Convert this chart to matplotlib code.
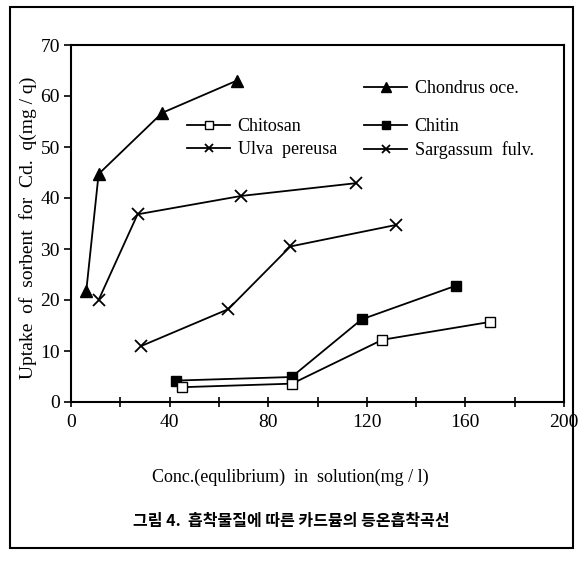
import matplotlib
matplotlib.use("Agg")
import matplotlib.pyplot as plt
from matplotlib.patches import Rectangle

# values
chondrus_x = [6.2, 11.2, 37.0, 67.2]
chondrus_y = [21.8, 44.7, 56.7, 63.0]

ulva_x = [11.2, 27.0, 69.0, 115.5]
ulva_y = [20.0, 36.8, 40.4, 42.9]

sargassum_x = [28.6, 63.8, 89.0, 131.7]
sargassum_y = [11.0, 18.2, 30.5, 34.7]

chitin_x = [42.5, 89.5, 117.9, 156.1]
chitin_y = [4.2, 4.9, 16.2, 22.8]

chitosan_x = [45.0, 89.7, 126.3, 170.0]
chitosan_y = [2.9, 3.6, 12.2, 15.7]

xticks = [0, 40, 80, 120, 160, 200]
yticks = [0, 10, 20, 30, 40, 50, 60, 70]

plt.rcParams['font.family'] = ['Liberation Serif', 'DejaVu Serif']

W, H = 579, 567
fig = plt.figure(figsize=(W / 100, H / 100), dpi=100)
ax = fig.add_axes([71 / W, 1 - 402 / H, (564 - 71) / W, (402 - 45) / H])

lw = 1.3
l_chon, = ax.plot(chondrus_x, chondrus_y, color="black", lw=lw,
                  marker="^", ms=9, mfc="black")
l_ulva, = ax.plot(ulva_x, ulva_y, color="black", lw=lw,
                  marker="x", ms=8, mew=1.3)
l_sarg, = ax.plot(sargassum_x, sargassum_y, color="black", lw=lw,
                  marker="x", ms=8, mew=1.3)
l_chit, = ax.plot(chitin_x, chitin_y, color="black", lw=lw,
                  marker="s", ms=7, mfc="black")
l_chts, = ax.plot(chitosan_x, chitosan_y, color="black", lw=lw,
                  marker="s", ms=7, mfc="white")

ax.set_xlim(0, 200)
ax.set_ylim(0, 70)
ax.set_xticks(xticks)
ax.set_xticks([20, 60, 100, 140, 180], minor=True)
ax.set_yticks(yticks)
ax.tick_params(axis="x", which="both", direction="inout", length=7,
               width=1.2, labelsize=14, pad=5)
ax.tick_params(axis="y", direction="out", length=5, width=1.2,
               labelsize=14, pad=3)
for s in ax.spines.values():
    s.set_linewidth(1.5)

leg_kw = dict(frameon=False, fontsize=13, borderpad=0, borderaxespad=0,
              handlelength=2.4, handletextpad=0.4, labelspacing=0.35,
              markerscale=0.8, bbox_transform=fig.transFigure,
              loc="upper left")
leg1 = ax.legend([l_chon], ["Chondrus oce."],
                 bbox_to_anchor=(364 / W, 1 - 80 / H), **leg_kw)
ax.add_artist(leg1)
leg2 = ax.legend([l_chit, l_sarg], ["Chitin", "Sargassum  fulv."],
                 bbox_to_anchor=(364 / W, 1 - 118 / H), **leg_kw)
ax.add_artist(leg2)
ax.legend([l_chts, l_ulva], ["Chitosan", "Ulva  pereusa"],
          bbox_to_anchor=(187 / W, 1 - 118 / H), **leg_kw)

fig.text(28 / W, 1 - 228 / H, "Uptake  of  sorbent  for  Cd.  q(mg / q)",
         rotation=90, ha="center", va="center", fontsize=14)
fig.text(290 / W, 1 - 477 / H, "Conc.(equlibrium)  in  solution(mg / l)",
         ha="center", va="center", fontsize=13)
fig.text(291 / W, 1 - 521 / H, "그림 4.  흡착물질에 따른 카드뮴의 등온흡착곡선",
         ha="center", va="center", fontsize=11.5, fontweight="bold",
         family=["Noto Sans CJK KR", "DejaVu Sans"])

fig.patches.append(Rectangle((10 / W, 1 - 548 / H), (573 - 10) / W,
                             (548 - 7) / H, transform=fig.transFigure,
                             fill=False, lw=1.5, color="black"))

fig.savefig("out.png", dpi=100)
